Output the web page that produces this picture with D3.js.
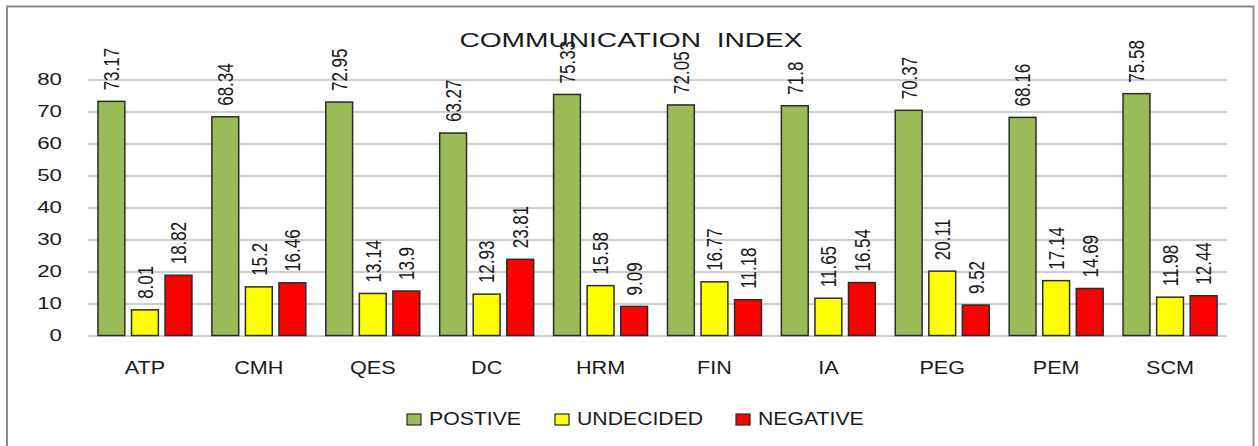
<!DOCTYPE html>
<html>
<head>
<meta charset="utf-8">
<script src="https://cdn.jsdelivr.net/npm/d3@7"></script>
<style>
  html, body { margin: 0; padding: 0; background: #fff; }
  svg { display: block; }
  text { font-family: "Liberation Sans", Arial, sans-serif; fill: #1a1a1a; }
</style>
</head>
<body>
<svg id="chart" width="1258" height="446"></svg>
<script>
// ---- data ----
const categories = ["ATP", "CMH", "QES", "DC", "HRM", "FIN", "IA", "PEG", "PEM", "SCM"];
const seriesNames = ["POSTIVE", "UNDECIDED", "NEGATIVE"];
const positive  = [73.17, 68.34, 72.95, 63.27, 75.33, 72.05, 71.8, 70.37, 68.16, 75.58];
const undecided = [8.01, 15.2, 13.14, 12.93, 15.58, 16.77, 11.65, 20.11, 17.14, 11.98];
const negative  = [18.82, 16.46, 13.9, 23.81, 9.09, 11.18, 16.54, 9.52, 14.69, 12.44];
const yTicks = [0, 10, 20, 30, 40, 50, 60, 70, 80];
const titleText = "COMMUNICATION  INDEX";

const seriesValues = [positive, undecided, negative];
const colors = ["#9BBB59", "#FFFF00", "#FF0000"];

const svg = d3.select("#chart");
const W = 1258, H = 446;

// frame
svg.append("rect")
  .attr("x", 7).attr("y", 6.5)
  .attr("width", 1246.5).attr("height", 450)
  .attr("fill", "#fff")
  .attr("stroke", "#8c8c8c").attr("stroke-width", 2);

const plot = { left: 88, right: 1227, top: 79.5, bottom: 335.5 };

const x0 = d3.scaleBand().domain(categories)
  .range([plot.left, plot.right])
  .paddingInner(0.175).paddingOuter(0.0875);
const x1 = d3.scaleBand().domain(seriesNames)
  .range([0, x0.bandwidth()])
  .paddingInner(0.2).paddingOuter(0);
const y = d3.scaleLinear().domain([0, 80]).range([plot.bottom, plot.top]);

// gridlines
const yAxis = d3.axisLeft(y).tickValues(yTicks)
  .tickSize(-(plot.right - plot.left)).tickPadding(0).tickFormat("");
const gy = svg.append("g").attr("transform", `translate(${plot.left},0)`).call(yAxis);
gy.select(".domain").remove();
gy.selectAll(".tick line").attr("stroke", "#a0a0a0").attr("stroke-width", 1.2);

// y tick labels (horizontally stretched like reference)
svg.append("g").selectAll("text").data(yTicks).join("text")
  .attr("transform", d => `translate(${plot.left - 26},${y(d)}) scale(1.35,1)`)
  .attr("text-anchor", "end")
  .attr("dominant-baseline", "central")
  .attr("font-size", 16.5)
  .text(d => d);

// bars
const rows = categories.map((c, i) => ({
  cat: c,
  vals: seriesNames.map((s, j) => ({ s, j, v: seriesValues[j][i] }))
}));

const groups = svg.append("g").selectAll("g").data(rows).join("g")
  .attr("transform", d => `translate(${x0(d.cat)},0)`);

groups.selectAll("rect").data(d => d.vals).join("rect")
  .attr("x", d => x1(d.s))
  .attr("y", d => y(d.v))
  .attr("width", x1.bandwidth())
  .attr("height", d => y(0) - y(d.v))
  .attr("fill", d => colors[d.j])
  .attr("stroke", "#2b2b2b").attr("stroke-width", 1.5);

// data labels (rotated)
groups.selectAll("text").data(d => d.vals).join("text")
  .attr("transform", d => `translate(${x1(d.s) + x1.bandwidth() / 2},${y(d.v) - 11}) scale(1.3,1) rotate(-90)`)
  .attr("text-anchor", "start")
  .attr("dominant-baseline", "central")
  .attr("font-size", 17)
  .text(d => d.v);

// category labels
svg.append("g").selectAll("text").data(categories).join("text")
  .attr("transform", d => `translate(${x0(d) + x0.bandwidth() / 2},${plot.bottom + 38.5}) scale(1.2,1)`)
  .attr("text-anchor", "middle")
  .attr("font-size", 18)
  .text(d => d);

// legend
const legendX = [407, 555, 736];
const lg = svg.append("g").selectAll("g").data(seriesNames).join("g")
  .attr("transform", (d, i) => `translate(${legendX[i]},414)`);
lg.append("rect")
  .attr("width", 14).attr("height", 11)
  .attr("fill", (d, i) => colors[i])
  .attr("stroke", "#2b2b2b").attr("stroke-width", 1.2);
lg.append("text")
  .attr("transform", "translate(22,11) scale(1.18,1)")
  .attr("font-size", 18)
  .text(d => d);

// title
svg.append("text")
  .attr("transform", `translate(631,47) scale(1.34,1)`)
  .attr("text-anchor", "middle")
  .attr("font-size", 21)
  .style("white-space", "pre")
  .attr("xml:space", "preserve")
  .text(titleText);
</script>
</body>
</html>
